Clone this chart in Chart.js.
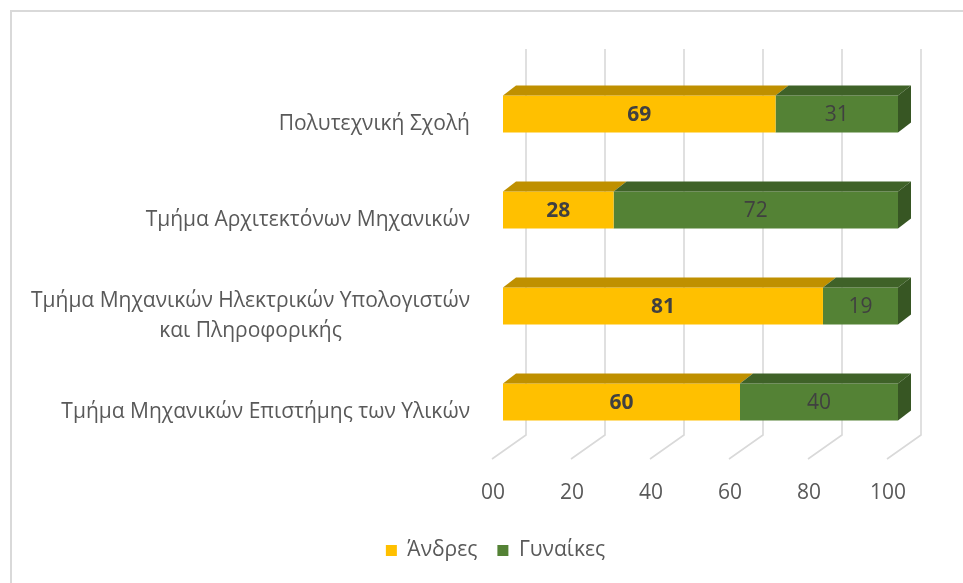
<!DOCTYPE html>
<html lang="el">
<head>
    <meta charset="UTF-8">
    <title>Άνδρες - Γυναίκες ανά τμήμα</title>
    <script src="https://cdn.jsdelivr.net/npm/chart.js"></script>
    <style>
        html, body { margin: 0; padding: 0; background: #ffffff; }
        canvas { display: block; }
    </style>
</head>
<body>
    <canvas id="chart" width="963" height="583"></canvas>

    <script>
        // Δεδομένα
        var departments = [
            'Πολυτεχνική Σχολή',
            'Τμήμα Αρχιτεκτόνων Μηχανικών',
            ['Τμήμα Μηχανικών Ηλεκτρικών Υπολογιστών', 'και Πληροφορικής'],
            'Τμήμα Μηχανικών Επιστήμης των Υλικών'
        ];
        var men = [69, 28, 81, 60];
        var women = [31, 72, 19, 40];
        var xTickLabels = ['00', '20', '40', '60', '80', '100'];

        var FONT = "'Open Sans', sans-serif";
        var TEXT = '#595959';
        var DX = 13, DY = 10;           // βάθος μπάρας (3Δ)
        var topColors = ['#bf9000', '#3f6228'];
        var sideColors = ['#9a7400', '#375623'];

        // περίγραμμα, πίσω τοίχος και δάπεδο
        var frame3d = {
            id: 'frame3d',
            beforeDraw: function (chart) {
                var c = chart.ctx, a = chart.chartArea, xs = chart.scales.x;
                c.save();
                c.strokeStyle = '#d9d9d9';
                c.lineWidth = 2;
                c.beginPath();
                c.moveTo(11, chart.height);
                c.lineTo(11, 11);
                c.lineTo(chart.width, 11);
                c.stroke();

                var wallTop = a.top - 17, wallBottom = a.bottom - 15, floorFront = a.bottom + 9;
                c.lineWidth = 1.6;
                xs.ticks.forEach(function (t) {
                    var px = xs.getPixelForValue(t.value);
                    c.beginPath();
                    c.moveTo(px + 23, wallTop);
                    c.lineTo(px + 23, wallBottom);
                    c.lineTo(px - 11, floorFront);
                    c.stroke();
                });
                c.restore();
            }
        };

        // πάνω και πλαϊνή όψη των μπαρών + ετικέτες τιμών
        var faces3d = {
            id: 'faces3d',
            afterDatasetsDraw: function (chart) {
                var c = chart.ctx;
                var last = chart.data.datasets.length - 1;
                c.save();
                chart.data.datasets.forEach(function (ds, di) {
                    chart.getDatasetMeta(di).data.forEach(function (bar) {
                        var p = bar.getProps(['x', 'y', 'base', 'height'], true);
                        var top = p.y - p.height / 2, bot = p.y + p.height / 2;
                        var x0 = Math.min(p.base, p.x), x1 = Math.max(p.base, p.x);
                        c.fillStyle = topColors[di];
                        c.beginPath();
                        c.moveTo(x0, top);
                        c.lineTo(x0 + DX, top - DY);
                        c.lineTo(x1 + DX, top - DY);
                        c.lineTo(x1, top);
                        c.closePath();
                        c.fill();
                        if (di === last) {
                            c.fillStyle = sideColors[di];
                            c.beginPath();
                            c.moveTo(x1, top);
                            c.lineTo(x1 + DX, top - DY);
                            c.lineTo(x1 + DX, bot - DY);
                            c.lineTo(x1, bot);
                            c.closePath();
                            c.fill();
                        }
                    });
                });

                c.fillStyle = '#404040';
                c.textAlign = 'center';
                c.textBaseline = 'middle';
                chart.data.datasets.forEach(function (ds, di) {
                    c.font = (di === 0 ? 'bold ' : '') + '21px ' + FONT;
                    chart.getDatasetMeta(di).data.forEach(function (bar, i) {
                        var p = bar.getProps(['x', 'y', 'base'], true);
                        c.fillText(String(ds.data[i]), (p.x + p.base) / 2, p.y + 1);
                    });
                });
                c.restore();
            }
        };

        // ετικέτες κατηγοριών
        var catLabels = {
            id: 'catLabels',
            afterDraw: function (chart) {
                var c = chart.ctx, ys = chart.scales.y;
                var right = chart.chartArea.left - 33;
                c.save();
                c.font = '21px ' + FONT;
                c.fillStyle = TEXT;
                c.textBaseline = 'middle';
                departments.forEach(function (lab, i) {
                    var cy = ys.getPixelForValue(i) + 10;
                    if (Array.isArray(lab)) {
                        var w = Math.max.apply(null, lab.map(function (s) { return c.measureText(s).width; }));
                        c.textAlign = 'center';
                        lab.forEach(function (s, k) {
                            c.fillText(s, right - w / 2, cy + (k - (lab.length - 1) / 2) * 30);
                        });
                    } else {
                        c.textAlign = 'right';
                        c.fillText(lab, right, cy);
                    }
                });
                c.restore();
            }
        };

        var ctx = document.getElementById('chart').getContext('2d');
        var chart = new Chart(ctx, {
            type: 'bar',
            data: {
                labels: departments,
                datasets: [{
                    label: 'Άνδρες',
                    data: men,
                    backgroundColor: '#ffc000',
                    borderWidth: 0
                }, {
                    label: 'Γυναίκες',
                    data: women,
                    backgroundColor: '#548235',
                    borderWidth: 0
                }]
            },
            options: {
                indexAxis: 'y',
                responsive: false,
                animation: false,
                barPercentage: 0.385,
                categoryPercentage: 1,
                layout: { padding: { top: 66, right: 0, left: 28, bottom: 12 } },
                scales: {
                    x: {
                        stacked: true,
                        min: 0,
                        max: 100,
                        grid: { display: false, drawTicks: false },
                        border: { display: false },
                        ticks: {
                            stepSize: 20,
                            padding: 30,
                            labelOffset: -10,
                            color: TEXT,
                            font: { family: FONT, size: 21 },
                            callback: function (v, i) { return xTickLabels[i]; }
                        },
                        afterFit: function (s) {
                            s.height = s.chart.height - 12 - s.chart.legend.height - 450;
                            s.paddingRight = 65;
                        }
                    },
                    y: {
                        stacked: true,
                        grid: { display: false },
                        border: { display: false },
                        ticks: { display: false },
                        afterFit: function (s) { s.width = 475; }
                    }
                },
                plugins: {
                    legend: {
                        position: 'bottom',
                        labels: {
                            boxWidth: 11,
                            boxHeight: 11,
                            padding: 20,
                            color: TEXT,
                            font: { family: FONT, size: 21 }
                        }
                    },
                    tooltip: { enabled: false }
                }
            },
            plugins: [frame3d, faces3d, catLabels]
        });
    </script>
</body>
</html>
